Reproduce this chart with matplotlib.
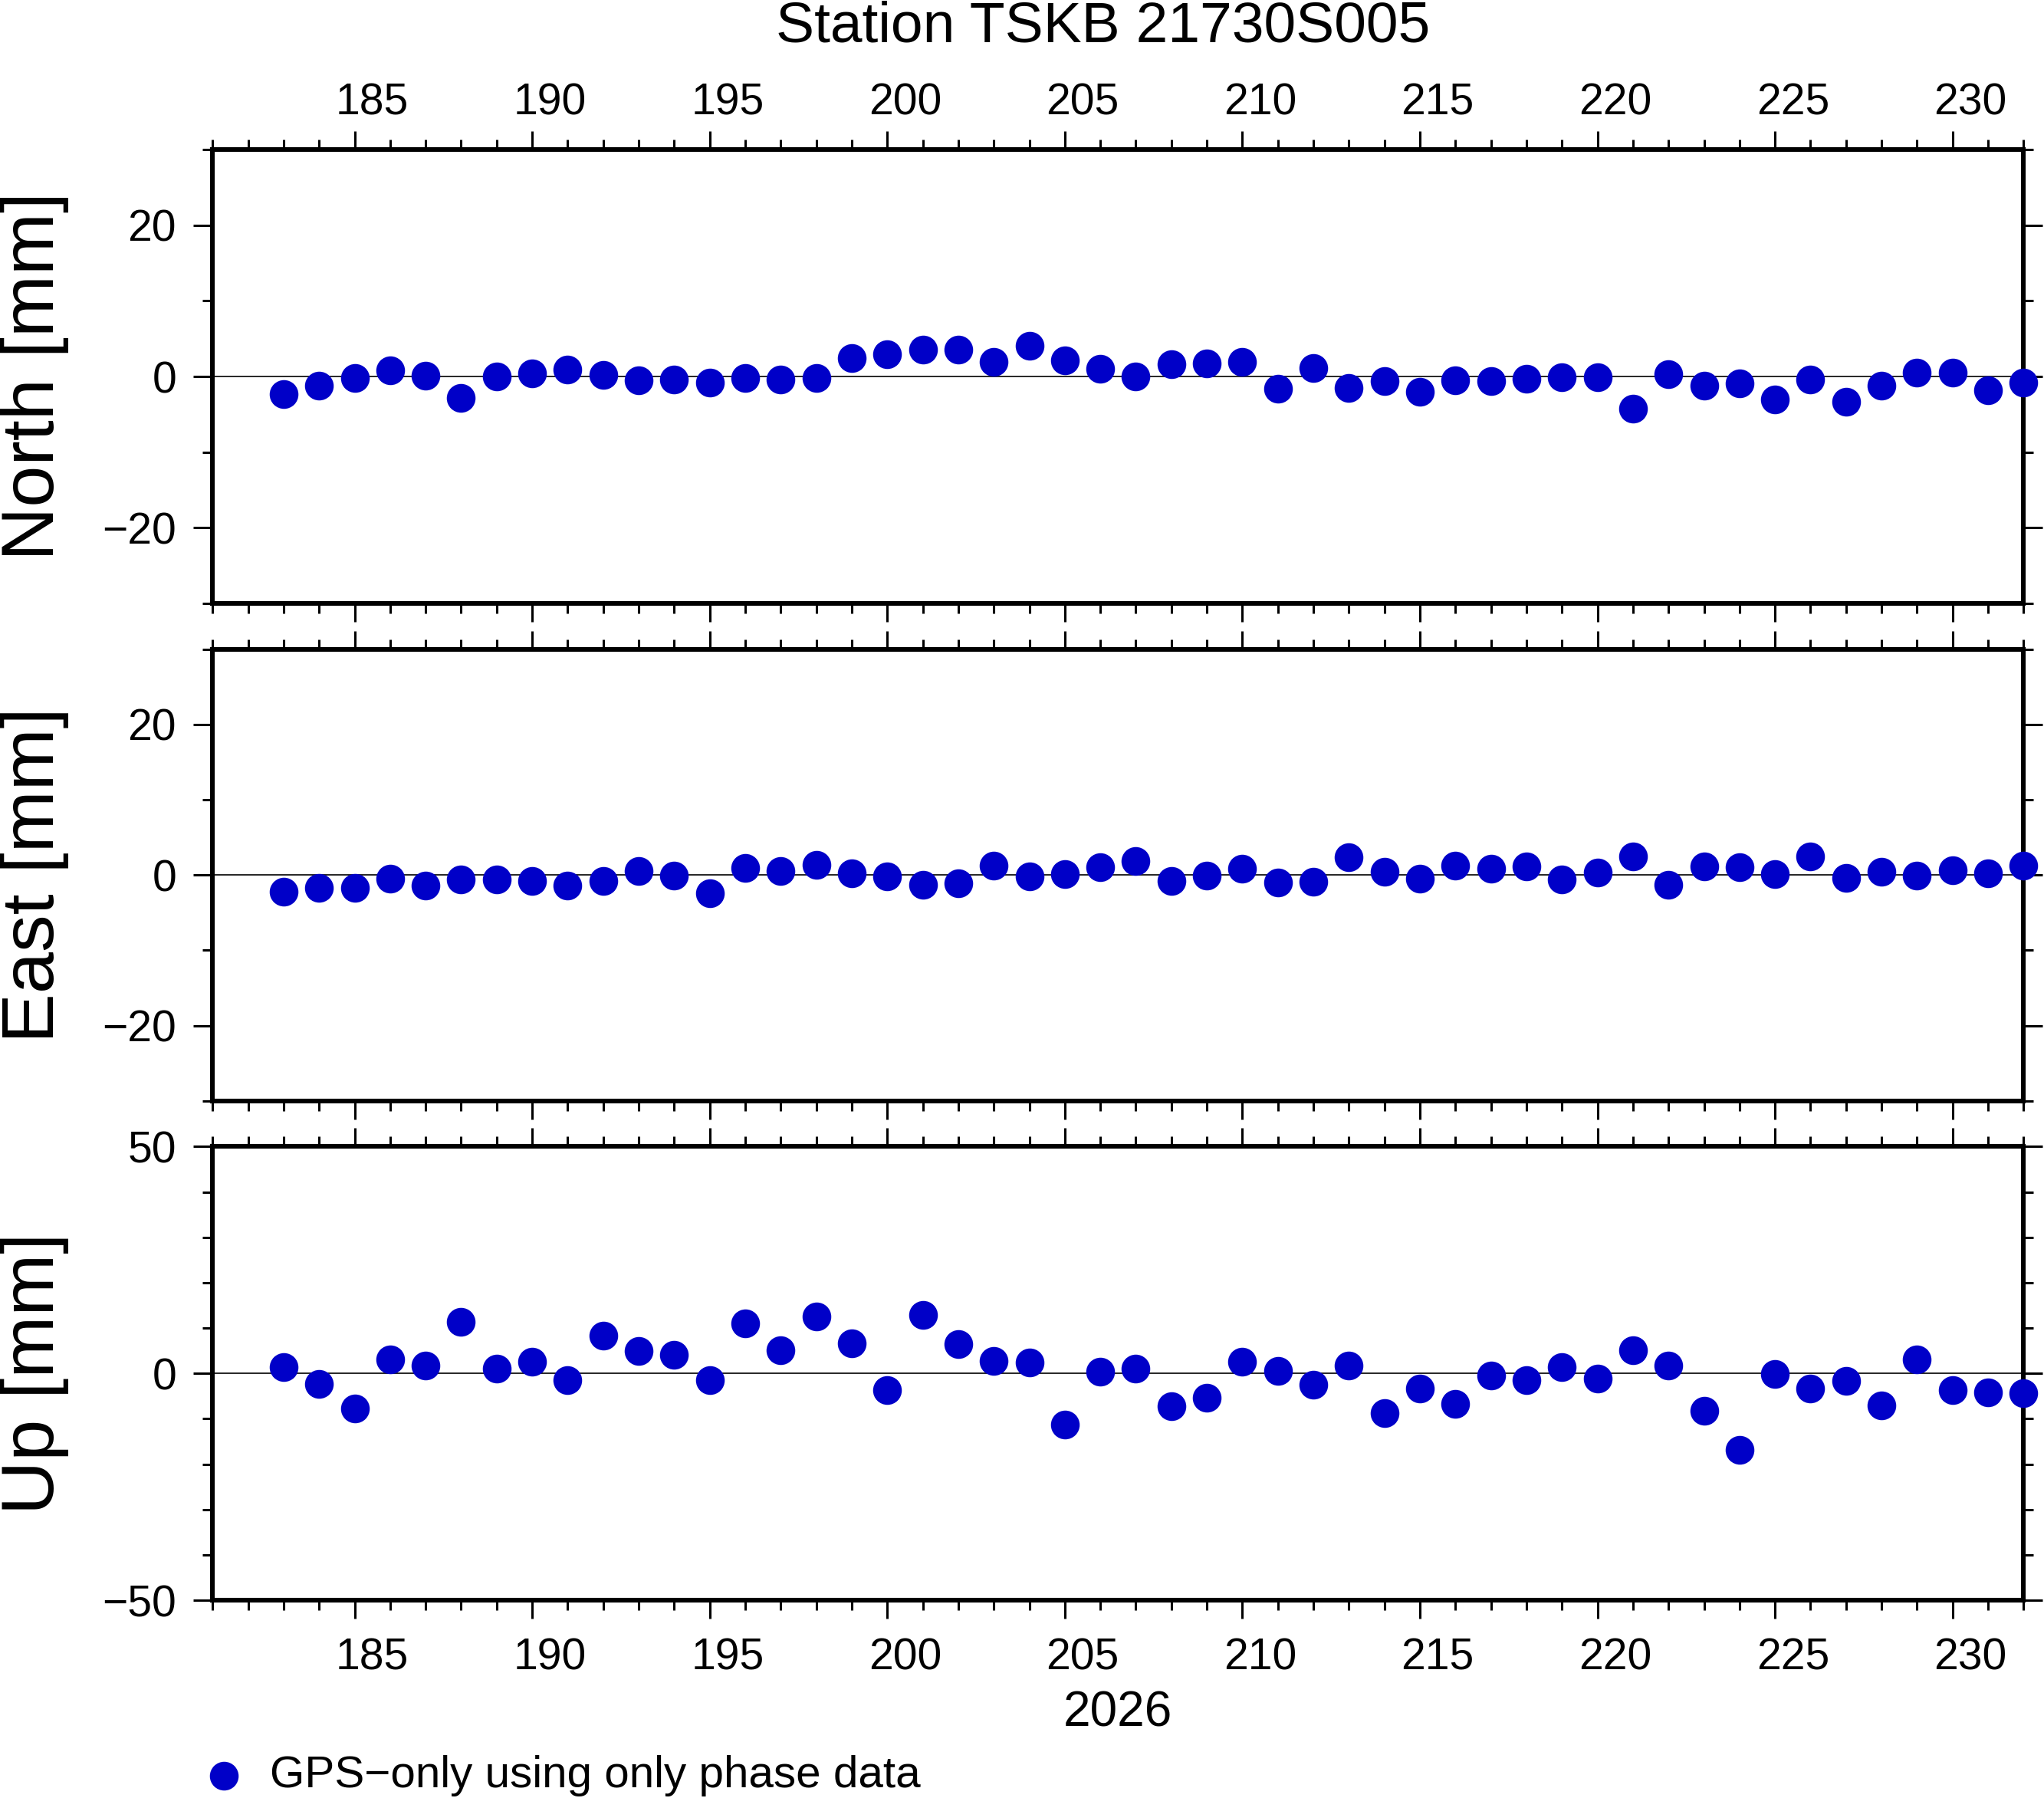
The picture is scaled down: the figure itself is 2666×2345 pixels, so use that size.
import numpy as np
import matplotlib
matplotlib.use("Agg")
from matplotlib import pyplot as plt
from matplotlib.ticker import MultipleLocator, NullFormatter

plt.rcParams["font.family"] = ["Liberation Sans", "DejaVu Sans"]

# day of year 2026
days = list(range(183, 233))

north = [-2.3, -1.2, -0.2, 0.8, 0.1, -2.8, 0.0, 0.4, 0.9, 0.2,
         -0.5, -0.4, -0.8, -0.2, -0.4, -0.2, 2.4, 2.9, 3.6, 3.6,
         1.9, 4.1, 2.1, 1.0, 0.0, 1.6, 1.7, 1.9, -1.6, 1.1,
         -1.5, -0.6, -2.0, -0.5, -0.6, -0.3, -0.1, -0.1, -4.3, 0.3,
         -1.2, -0.9, -3.0, -0.4, -3.3, -1.2, 0.5, 0.5, -1.8, -0.8]

east = [-2.2, -1.7, -1.7, -0.5, -1.4, -0.6, -0.6, -0.8, -1.4, -0.8,
        0.5, -0.1, -2.4, 0.9, 0.5, 1.3, 0.2, -0.2, -1.3, -1.1,
        1.2, -0.2, 0.1, 1.0, 1.9, -0.8, -0.1, 0.8, -1.0, -0.9,
        2.4, 0.4, -0.5, 1.2, 0.8, 1.1, -0.6, 0.3, 2.5, -1.3,
        1.1, 1.0, 0.1, 2.5, -0.4, 0.4, -0.1, 0.6, 0.2, 1.2]

up = [1.4, -2.4, -7.8, 3.1, 1.8, 11.3, 1.1, 2.5, -1.5, 8.4,
      4.9, 4.1, -1.4, 11.1, 5.1, 12.5, 6.6, -3.7, 12.9, 6.5,
      2.7, 2.4, -11.3, 0.3, 1.0, -7.3, -5.3, 2.5, 0.5, -2.5,
      1.7, -8.8, -3.4, -6.7, -0.5, -1.4, 1.4, -1.2, 5.1, 1.7,
      -8.3, -16.9, -0.1, -3.4, -1.6, -7.1, 3.1, -3.6, -4.2, -4.4]

x_labels = [185, 190, 195, 200, 205, 210, 215, 220, 225, 230]

panels = [
    ("North [mm]", north, 30, 20),
    ("East [mm]", east, 30, 20),
    ("Up [mm]", up, 50, 50),
]

dot_color = "#0000c8"
x_min, x_max = 181, 232

fig = plt.figure(figsize=(13.33, 11.725), dpi=200)

left, right = 0.104, 0.990
boxes = [(0.6645, 0.9167), (0.3877, 0.639), (0.110, 0.3623)]

for i, (name, vals, lim, major) in enumerate(panels):
    b, t = boxes[i]
    ax = fig.add_axes([left, b, right - left, t - b])
    ax.axhline(0, color="black", lw=0.6, zorder=1)
    ax.plot(days, vals, "o", color=dot_color, ms=12.5, mec=dot_color,
            clip_on=False, zorder=3)
    ax.set_xlim(x_min, x_max)
    ax.set_ylim(-lim, lim)

    ax.xaxis.set_major_locator(MultipleLocator(5))
    ax.xaxis.set_minor_locator(MultipleLocator(1))
    ax.yaxis.set_major_locator(MultipleLocator(major))
    ax.yaxis.set_minor_locator(MultipleLocator(10))
    ax.xaxis.set_major_formatter(NullFormatter())

    ax.tick_params(axis="both", which="both", direction="out",
                   top=True, bottom=True, left=True, right=True, width=1.1)
    ax.tick_params(axis="x", which="major", length=8.6)
    ax.tick_params(axis="x", which="minor", length=4.7)
    ax.tick_params(axis="y", which="major", length=9, labelsize=20.5, pad=8)
    ax.tick_params(axis="y", which="minor", length=4.7)

    for sp in ax.spines.values():
        sp.set_linewidth(2.2)

    # GMT style: day numbers sit in the middle of the day interval
    if i == 0:
        for d in x_labels:
            ax.annotate(str(d), xy=(d + 0.5, 1), xycoords=("data", "axes fraction"),
                        xytext=(0, 22), textcoords="offset points",
                        ha="center", va="center", fontsize=20.5)
    if i == 2:
        for d in x_labels:
            ax.annotate(str(d), xy=(d + 0.5, 0), xycoords=("data", "axes fraction"),
                        xytext=(0, -27), textcoords="offset points",
                        ha="center", va="center", fontsize=20.5)
        ax.annotate("2026", xy=(0.5, 0), xycoords="axes fraction",
                    xytext=(0, -53), textcoords="offset points",
                    ha="center", va="center", fontsize=23)

    fig.text(0.017, (b + t) / 2, name, rotation=90, ha="center", va="center",
             fontsize=35)

fig.text(0.5395, 0.985, "Station TSKB 21730S005", ha="center", va="center",
         fontsize=27)

# legend
fig.lines.append(plt.Line2D([0.1097], [0.0125], marker="o", color=dot_color,
                            ms=12.5, transform=fig.transFigure, linestyle="none"))
fig.text(0.132, 0.0125, "GPS\u2212only using only phase data", ha="left",
         va="center", fontsize=21)

fig.savefig("out.png", dpi=200)
